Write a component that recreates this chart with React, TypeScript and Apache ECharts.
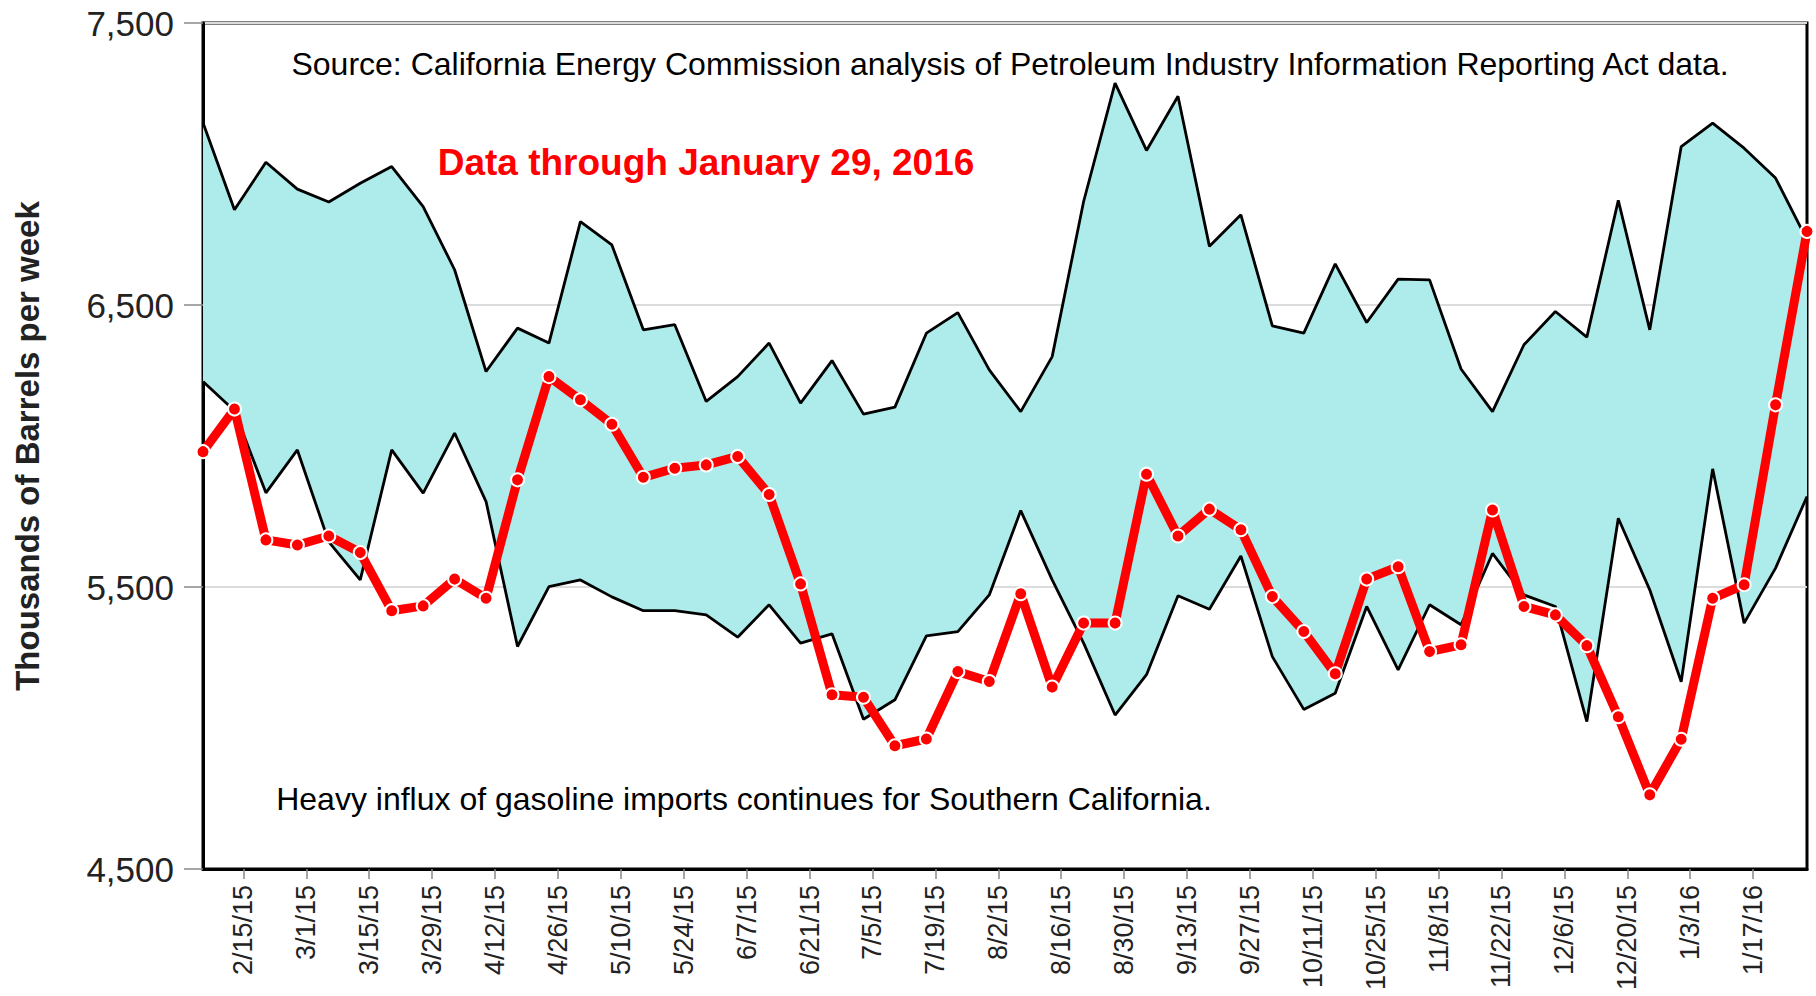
import React, { useEffect, useRef } from "react";
import * as echarts from "echarts";

const weekDates = [
  "2/6/15", "2/13/15", "2/20/15", "2/27/15", "3/6/15", "3/13/15", "3/20/15", "3/27/15",
  "4/3/15", "4/10/15", "4/17/15", "4/24/15", "5/1/15", "5/8/15", "5/15/15", "5/22/15",
  "5/29/15", "6/5/15", "6/12/15", "6/19/15", "6/26/15", "7/3/15", "7/10/15", "7/17/15",
  "7/24/15", "7/31/15", "8/7/15", "8/14/15", "8/21/15", "8/28/15", "9/4/15", "9/11/15",
  "9/18/15", "9/25/15", "10/2/15", "10/9/15", "10/16/15", "10/23/15", "10/30/15", "11/6/15",
  "11/13/15", "11/20/15", "11/27/15", "12/4/15", "12/11/15", "12/18/15", "12/25/15", "1/1/16",
  "1/8/16", "1/15/16", "1/22/16", "1/29/16",
];

const upperValues = [
  7146, 6838, 7006, 6911, 6865, 6932, 6991, 6849, 6625, 6264, 6418, 6365, 6796, 6713,
  6412, 6430, 6158, 6246, 6365, 6152, 6303, 6113, 6138, 6400, 6473, 6270, 6122, 6317,
  6867, 7287, 7048, 7240, 6708, 6820, 6426, 6400, 6646, 6438, 6592, 6589, 6273, 6122,
  6359, 6477, 6386, 6871, 6412, 7062, 7145, 7056, 6950, 6731,
];

const lowerValues = [
  6229, 6125, 5834, 5986, 5660, 5525, 5986, 5833, 6046, 5803, 5289, 5501, 5525, 5465,
  5416, 5416, 5401, 5322, 5437, 5301, 5334, 5031, 5100, 5327, 5342, 5472, 5771, 5525,
  5301, 5046, 5189, 5469, 5421, 5610, 5253, 5066, 5123, 5431, 5206, 5437, 5366, 5619,
  5472, 5431, 5023, 5744, 5490, 5164, 5919, 5372, 5567, 5821,
];

const currentValues = [
  5980, 6131, 5667, 5649, 5681, 5622, 5416, 5433, 5528, 5460, 5880, 6246, 6164, 6077,
  5889, 5921, 5933, 5963, 5828, 5511, 5118, 5109, 4937, 4961, 5200, 5165, 5476, 5145,
  5372, 5372, 5900, 5681, 5776, 5703, 5466, 5342, 5192, 5528, 5572, 5271, 5295, 5773,
  5431, 5401, 5292, 5040, 4763, 4960, 5460, 5508, 6146, 6761,
];

const tickLabels = [
  "2/15/15", "3/1/15", "3/15/15", "3/29/15", "4/12/15", "4/26/15", "5/10/15", "5/24/15",
  "6/7/15", "6/21/15", "7/5/15", "7/19/15", "8/2/15", "8/16/15", "8/30/15", "9/13/15",
  "9/27/15", "10/11/15", "10/25/15", "11/8/15", "11/22/15", "12/6/15", "12/20/15",
  "1/3/16", "1/17/16",
];

const yMin = 4500;
const yMax = 7500;
const yStep = 1000;

const sourceText =
  "Source: California Energy Commission analysis of Petroleum Industry Information Reporting Act data.";
const dateText = "Data through January 29, 2016";
const noteText = "Heavy influx of gasoline imports continues for Southern California.";
const yTitle = "Thousands of Barrels per week";

const FONT = "'Liberation Sans', Arial, Helvetica, sans-serif";

function dayNum(s: string): number {
  const [m, d, y] = s.split("/").map(Number);
  return Math.round(Date.UTC(2000 + y, m - 1, d) / 86400000);
}

export default function App() {
  const ref = useRef<HTMLDivElement>(null);

  useEffect(() => {
    if (!ref.current) return;
    const chart = echarts.init(ref.current, undefined, { renderer: "svg" });

    const xs = weekDates.map(dayNum);
    const tickDays = tickLabels.map(dayNum);
    const labelMap: Record<number, string> = {};
    tickLabels.forEach((t, i) => (labelMap[tickDays[i]] = t));

    const bandData = upperValues.map((u, i) => u - lowerValues[i]);

    chart.setOption({
      animation: false,
      backgroundColor: "#ffffff",
      grid: {
        left: 203,
        right: 9,
        top: 23,
        bottom: 127,
        show: true,
        borderColor: "#000",
        borderWidth: 3,
        backgroundColor: "transparent",
      },
      xAxis: [
        {
          type: "category",
          data: weekDates,
          boundaryGap: false,
          show: false,
        },
        {
          type: "value",
          min: xs[0],
          max: xs[xs.length - 1],
          position: "bottom",
          splitLine: { show: false },
          axisLine: { show: true, lineStyle: { color: "#000", width: 3 } },
          axisTick: {
            show: true,
            customValues: tickDays,
            length: 10,
            lineStyle: { color: "#888", width: 1.5 },
          },
          axisLabel: {
            customValues: tickDays,
            rotate: 90,
            margin: 16,
            fontSize: 27,
            fontFamily: FONT,
            color: "#222",
            formatter: (v: number) => labelMap[Math.round(v)] ?? "",
          },
        },
      ],
      yAxis: {
        type: "value",
        min: yMin,
        max: yMax,
        interval: yStep,
        axisLine: { show: true, lineStyle: { color: "#000", width: 3 } },
        axisTick: { show: true, length: 19, lineStyle: { color: "#888", width: 1.5 } },
        splitLine: { show: true, lineStyle: { color: "#dcdcdc", width: 2 } },
        axisLabel: {
          margin: 29,
          fontSize: 35,
          fontFamily: FONT,
          color: "#222",
          formatter: (v: number) => v.toLocaleString("en-US"),
        },
      },
      graphic: [
        {
          type: "text",
          x: 27,
          y: 446,
          rotation: Math.PI / 2,
          style: {
            text: yTitle,
            fontSize: 33,
            fontWeight: "bold",
            fontFamily: FONT,
            fill: "#222",
            align: "center",
            verticalAlign: "middle",
          },
        },
        {
          type: "text",
          x: 1010,
          y: 64,
          z: 100,
          style: {
            text: sourceText,
            fontSize: 32,
            fontFamily: FONT,
            fill: "#000",
            align: "center",
            verticalAlign: "middle",
          },
        },
        {
          type: "text",
          x: 706,
          y: 162,
          z: 100,
          style: {
            text: dateText,
            fontSize: 37,
            fontWeight: "bold",
            fontFamily: FONT,
            fill: "#ff0000",
            align: "center",
            verticalAlign: "middle",
          },
        },
        {
          type: "text",
          x: 744,
          y: 799,
          z: 100,
          style: {
            text: noteText,
            fontSize: 32,
            fontFamily: FONT,
            fill: "#000",
            align: "center",
            verticalAlign: "middle",
          },
        },
      ],
      series: [
        {
          name: "lowerBase",
          type: "line",
          xAxisIndex: 0,
          stack: "band",
          data: lowerValues,
          symbol: "none",
          lineStyle: { opacity: 0 },
          silent: true,
          z: 1,
        },
        {
          name: "band",
          type: "line",
          xAxisIndex: 0,
          stack: "band",
          data: bandData,
          symbol: "none",
          lineStyle: { opacity: 0 },
          areaStyle: { color: "#aeecec", opacity: 1 },
          silent: true,
          z: 1,
        },
        {
          name: "Maximum",
          type: "line",
          xAxisIndex: 0,
          data: upperValues,
          symbol: "none",
          lineStyle: { color: "#000", width: 2.8 },
          z: 2,
        },
        {
          name: "Minimum",
          type: "line",
          xAxisIndex: 0,
          data: lowerValues,
          symbol: "none",
          lineStyle: { color: "#000", width: 2.8 },
          z: 2,
        },
        {
          name: "Current",
          type: "line",
          xAxisIndex: 0,
          data: currentValues,
          symbol: "circle",
          symbolSize: 13,
          showAllSymbol: true,
          lineStyle: { color: "#ff0000", width: 9 },
          itemStyle: { color: "#ff0000", borderColor: "#ffffff", borderWidth: 2 },
          z: 3,
        },
      ],
    });

    return () => {
      chart.dispose();
    };
  }, []);

  return (
    <div
      ref={ref}
      style={{
        position: "fixed",
        left: 0,
        top: 0,
        width: 1816,
        height: 996,
        background: "#fff",
      }}
    />
  );
}
